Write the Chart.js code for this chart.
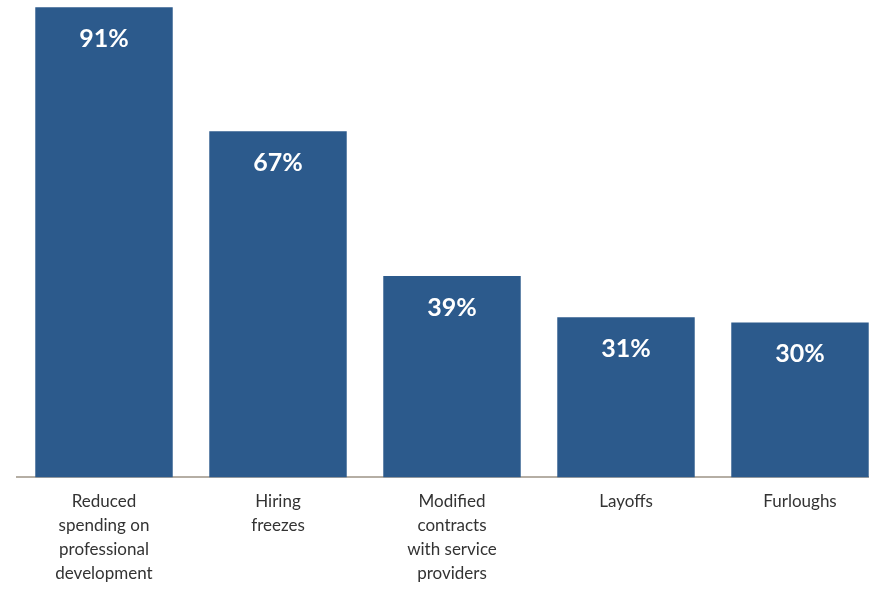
<!DOCTYPE html>
<html>
<head>
<meta charset="utf-8">
<script src="https://cdn.jsdelivr.net/npm/chart.js@4/dist/chart.umd.min.js"></script>
<style>
  html, body { margin: 0; padding: 0; background: #ffffff; overflow: hidden; }
  #wrap { width: 887px; height: 609px; position: relative; }
</style>
</head>
<body>
<div id="wrap"><canvas id="c"></canvas></div>
<script>
const categories = [
  ["Reduced", "spending on", "professional", "development"],
  ["Hiring", "freezes"],
  ["Modified", "contracts", "with service", "providers"],
  ["Layoffs"],
  ["Furloughs"]
];
const values = [91, 67, 39, 31, 30];
const valueLabels = ["91%", "67%", "39%", "31%", "30%"];

const barColor = "#2c5a8c";

const valueLabelPlugin = {
  id: "valueLabels",
  afterDatasetsDraw(chart) {
    const ctx = chart.ctx;
    const meta = chart.getDatasetMeta(0);
    ctx.save();
    ctx.fillStyle = "#ffffff";
    ctx.font = "bold 25px Lato, 'Open Sans', sans-serif";
    ctx.textAlign = "center";
    ctx.textBaseline = "middle";
    meta.data.forEach((bar, i) => {
      ctx.fillText(valueLabels[i], bar.x, bar.y + 32);
    });
    ctx.restore();
  }
};

new Chart(document.getElementById("c"), {
  type: "bar",
  data: {
    labels: categories,
    datasets: [{
      data: values,
      backgroundColor: barColor,
      borderWidth: 0,
      barPercentage: 0.79,
      categoryPercentage: 1.0
    }]
  },
  options: {
    responsive: true,
    maintainAspectRatio: false,
    animation: false,
    layout: { padding: { left: 17, right: 0, top: 2, bottom: 11 } },
    plugins: { legend: { display: false }, tooltip: { enabled: false } },
    scales: {
      x: {
        grid: { display: false, drawTicks: false },
        border: { display: true, color: "#b5aea4", width: 2 },
        ticks: {
          color: "#333333",
          font: { family: "Lato, 'Open Sans', sans-serif", size: 17, lineHeight: 1.42 },
          padding: 12,
          maxRotation: 0,
          autoSkip: false
        }
      },
      y: {
        display: false,
        min: 0,
        max: 92
      }
    }
  },
  plugins: [valueLabelPlugin]
});
</script>
</body>
</html>
